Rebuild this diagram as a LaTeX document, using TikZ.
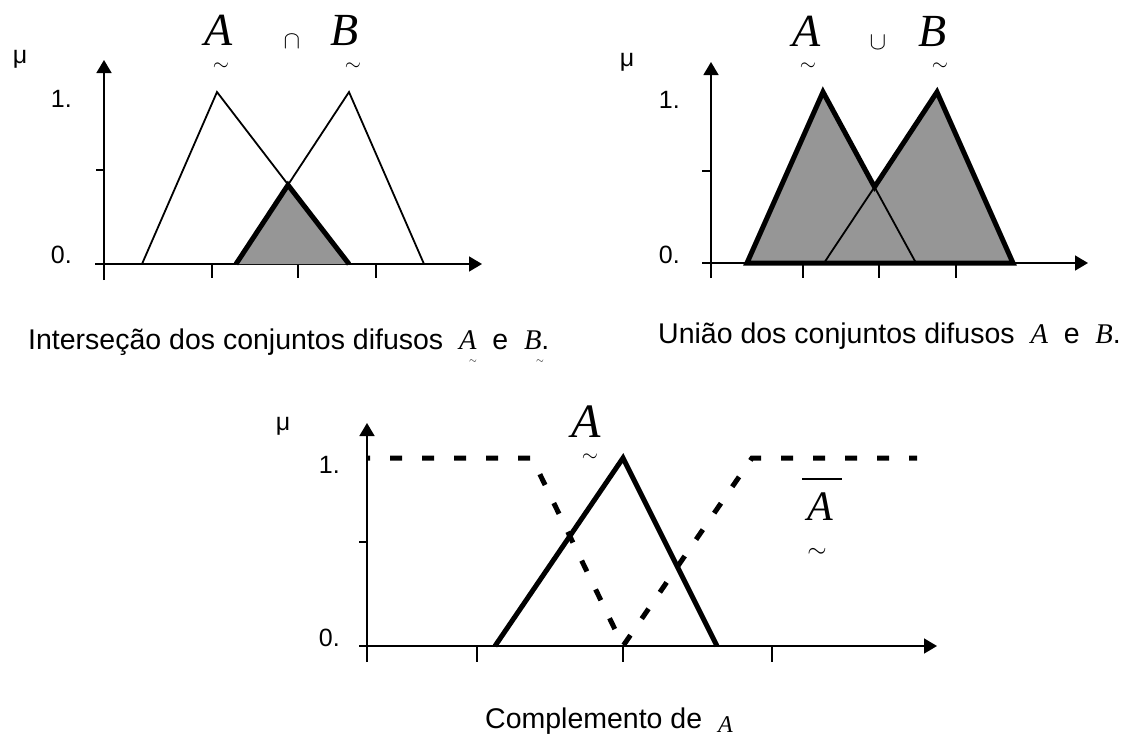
\documentclass[tikz,border=0pt]{standalone}
\usepackage{fontspec}
\setmainfont{Liberation Sans}
\newfontfamily\tms{Liberation Serif}
\usetikzlibrary{arrows.meta, positioning}
\definecolor{fillgray}{RGB}{150,150,150}
\tikzset{
  axis/.style={line width=1.6pt, -{Triangle[length=13pt,width=15pt]}},
  tick/.style={line width=1.6pt},
  thinline/.style={line width=1.8pt, line join=miter},
  thickline/.style={line width=5pt, line join=miter},
  dashline/.style={line width=5pt, dash pattern=on 12pt off 20pt, dash phase=9pt},
  shade/.style={fill=fillgray},
  setname/.style={font=\tms\itshape\fontsize{46}{46}\selectfont, inner sep=0pt, anchor=base},
  tld/.style={font=\fontsize{22}{22}\selectfont, inner sep=0pt},
  opsym/.style={font=\fontsize{28}{28}\selectfont, inner sep=0pt},
  mulabel/.style={font=\fontsize{25}{25}\selectfont, inner sep=0pt, anchor=base},
  level/.style={font=\fontsize{25}{25}\selectfont, inner sep=0pt, anchor=base east},
  caption/.style={font=\fontsize{28.5}{30}\selectfont, inner sep=0pt, anchor=base west}
}

\begin{document}
\begin{tikzpicture}[x=1pt, y=-1pt]
  \useasboundingbox (0,0) rectangle (1146,740);

  % Intersection: axes
  \draw[axis] (95,264) -- (482,264);
  \draw[axis] (104,280) -- (104,60);
  \foreach \x in {212,298,376} \draw[tick] (\x,264) -- (\x,278);
  \draw[tick] (96,170) -- (104,170);
  % Intersection: shaded min
  \fill[shade] (236,264) -- (288,185) -- (349,264) -- cycle;
  \draw[thickline] (236,264) -- (288,185) -- (349,264);
  \draw[thinline] (142,264) -- (217,92) -- (349,264);
  \draw[thinline] (236,264) -- (349,92) -- (424,264);
  % Intersection: labels
  \node[mulabel] (mu1) at (20,63) {μ};
  \node[level] (one1) at (72,107) {1.};
  \node[level] (zero1) at (72,263) {0.};
  \node[setname] (a1) at (219,45) {A};
  \node[tld] (a1t) at (221,67) {$\sim$};
  \node[opsym] (cap1) at (292,42) {$\cap$};
  \node[setname] (b1) at (345,45) {B};
  \node[tld] (b1t) at (353,67) {$\sim$};

  % Union: axes
  \draw[axis] (702,263) -- (1088,263);
  \draw[axis] (711,278) -- (711,62);
  \foreach \x in {803,879,956} \draw[tick] (\x,263) -- (\x,278);
  \draw[tick] (702,171) -- (711,171);
  % Union: shaded max
  \fill[shade] (747,263) -- (823,92) -- (874.5,187) -- (937,92) -- (1013,263) -- cycle;
  \draw[thinline] (824,263) -- (874.5,187) -- (916,263);
  \draw[thickline] (747,263) -- (823,92) -- (874.5,187) -- (937,92) -- (1013,263) -- cycle;
  % Union: labels
  \node[mulabel] (mu2) at (627,66) {μ};
  \node[level] (one2) at (680,108) {1.};
  \node[level] (zero2) at (680,263) {0.};
  \node[setname] (a2) at (807,46) {A};
  \node[tld] (a2t) at (808,67) {$\sim$};
  \node[opsym] (cup2) at (878,43) {$\cup$};
  \node[setname] (b2) at (933,46) {B};
  \node[tld] (b2t) at (940,67) {$\sim$};

  % Complement: axes
  \draw[axis] (359,646) -- (937,646);
  \draw[axis] (367,662) -- (367,423);
  \foreach \x in {477,623,772} \draw[tick] (\x,646) -- (\x,662);
  \draw[tick] (359,542) -- (367,542);
  % Complement: A and its complement
  \draw[thickline] (495,646) -- (623,458) -- (717,646);
  \draw[dashline] (367,458) -- (532,458) -- (623,646) -- (752,458) -- (917,458);
  % Complement: labels
  \node[mulabel] (mu3) at (283,430) {μ};
  \node[level] (one3) at (340,473) {1.};
  \node[level] (zero3) at (340,646) {0.};
  \node[setname, font=\tms\itshape\fontsize{48}{48}\selectfont] (a3) at (586,437) {A};
  \node[tld, font=\fontsize{20}{20}\selectfont] (a3t) at (590,458) {$\sim$};
  \node[setname, font=\tms\itshape\fontsize{42}{42}\selectfont] (abar) at (820,520) {A};
  \draw[line width=1.8pt] ([xshift=-18pt,yshift=13pt]abar.north) -- ([xshift=22pt,yshift=13pt]abar.north);
  \node[tld, font=\fontsize{30}{30}\selectfont] (abart) at (817,553) {$\sim$};

  % Captions
  \node[caption] (capi) at (28,349) {Interseção dos conjuntos difusos\ \ {\tms\itshape A}\ \ e\ \ {\tms\itshape B}.};
  \node[tld, font=\fontsize{10}{10}\selectfont] (capia) at (473,362) {$\sim$};
  \node[tld, font=\fontsize{10}{10}\selectfont] (capib) at (540,362) {$\sim$};
  \node[caption] (capu) at (658,343) {União dos conjuntos difusos\ \ {\tms\itshape A}\ \ e\ \ {\tms\itshape B}.};
  \node[caption] (capc) at (485,728) {Complemento de\ \ {\tms\itshape\fontsize{24}{24}\selectfont\raisebox{-4pt}{A}}};
\end{tikzpicture}
\end{document}
